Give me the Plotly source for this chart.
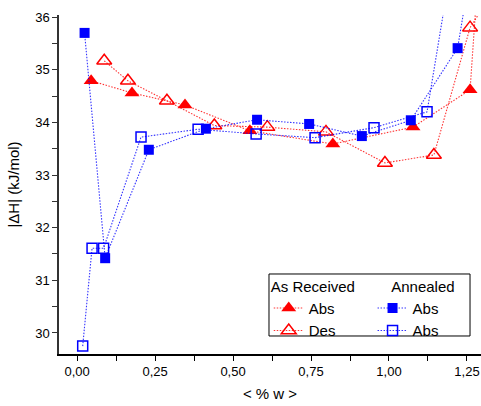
import plotly.graph_objects as go

# As Received - Absorption (filled red triangles)
ar_abs_x = [0.045, 0.176, 0.346, 0.554, 0.820, 1.077, 1.260, 1.290]
ar_abs_y = [34.79, 34.56, 34.33, 33.84, 33.59, 33.91, 34.62, 37.20]
# As Received - Desorption (open red triangles)
ar_des_x = [0.087, 0.163, 0.288, 0.440, 0.610, 0.798, 0.987, 1.144, 1.260, 1.330]
ar_des_y = [35.17, 34.79, 34.41, 33.94, 33.91, 33.82, 33.23, 33.38, 35.80, 36.45]
# Annealed - Abs (filled blue squares)
an_abs1_x = [0.024, 0.090, 0.230, 0.413, 0.577, 0.744, 0.913, 1.070, 1.220, 1.270]
an_abs1_y = [35.70, 31.42, 33.48, 33.88, 34.05, 33.97, 33.74, 34.04, 35.41, 37.20]
# Annealed - Abs (open blue squares)
an_abs2_x = [0.018, 0.048, 0.085, 0.205, 0.388, 0.574, 0.763, 0.952, 1.122, 1.200]
an_abs2_y = [29.75, 31.61, 31.61, 33.72, 33.87, 33.78, 33.71, 33.90, 34.20, 37.00]

x_ticks = [0.0, 0.25, 0.5, 0.75, 1.0, 1.25]
y_ticks = [30, 31, 32, 33, 34, 35, 36]

RED = "#ff0000"
BLUE = "#0000ff"
FONT = "Liberation Sans, Arial, sans-serif"
DOT = "1.5px,1.5px"

fig = go.Figure()
fig.add_trace(go.Scatter(x=ar_abs_x, y=ar_abs_y, mode="lines+markers", name="Abs",
                         line=dict(color="rgba(255,0,0,0.8)", width=1.1, dash=DOT),
                         marker=dict(symbol="triangle-up", size=13, color=RED),
                         legend="legend", cliponaxis=True))
fig.add_trace(go.Scatter(x=ar_des_x, y=ar_des_y, mode="lines+markers", name="Des",
                         line=dict(color="rgba(255,0,0,0.8)", width=1.1, dash=DOT),
                         marker=dict(symbol="triangle-up-open", size=13, color=RED,
                                     line=dict(width=1.5, color=RED)),
                         legend="legend", cliponaxis=True))
fig.add_trace(go.Scatter(x=an_abs1_x, y=an_abs1_y, mode="lines+markers", name="Abs",
                         line=dict(color="rgba(0,0,255,0.8)", width=1.1, dash=DOT),
                         marker=dict(symbol="square", size=10, color=BLUE),
                         legend="legend2", cliponaxis=True))
fig.add_trace(go.Scatter(x=an_abs2_x, y=an_abs2_y, mode="lines+markers", name="Abs",
                         line=dict(color="rgba(0,0,255,0.8)", width=1.1, dash=DOT),
                         marker=dict(symbol="square-open", size=10, color=BLUE,
                                     line=dict(width=1.5, color=BLUE)),
                         legend="legend2", cliponaxis=True))

fig.add_shape(type="rect", xref="paper", yref="paper",
              x0=0.4976, x1=0.974, y0=0.0531, y1=0.236,
              line=dict(color="black", width=1), fillcolor="white", layer="below")

fig.update_layout(
    width=481, height=406,
    margin=dict(l=59, r=0, t=15, b=52),
    paper_bgcolor="white", plot_bgcolor="white",
    separators=", ",
    font=dict(family=FONT, size=13, color="black"),
    showlegend=True,
    legend=dict(x=0.497, y=0.241, xanchor="left", yanchor="top",
                bgcolor="rgba(0,0,0,0)", borderwidth=0,
                font=dict(size=15, family=FONT),
                title=dict(text="As Received", font=dict(size=15, family=FONT)),
                tracegroupgap=0, itemwidth=30),
    legend2=dict(x=0.743, y=0.241, xanchor="left", yanchor="top",
                 bgcolor="rgba(0,0,0,0)", borderwidth=0,
                 font=dict(size=15, family=FONT),
                 title=dict(text="\u00a0\u00a0\u00a0\u00a0Annealed", font=dict(size=15, family=FONT)),
                 tracegroupgap=0, itemwidth=30),
    xaxis=dict(range=[-0.058, 1.295], tickvals=x_ticks, tickformat=".2f",
               showgrid=False, zeroline=False, showline=True, linecolor="black", linewidth=1.5,
               ticks="outside", ticklen=5, tickwidth=1.2, tickcolor="black",
               minor=dict(dtick=0.125, ticks="outside", ticklen=5, tickwidth=1.2, tickcolor="black", showgrid=False),
               title=dict(text="< % w >", font=dict(size=15), standoff=10),
               tickfont=dict(size=13)),
    yaxis=dict(range=[29.6, 36.04], tickvals=y_ticks,
               showgrid=False, zeroline=False, showline=True, linecolor="#333333", linewidth=1.5,
               ticks="outside", ticklen=5, tickwidth=1.2, tickcolor="#333333",
               minor=dict(dtick=0.5, ticks="outside", ticklen=5, tickwidth=1.2, tickcolor="#333333", showgrid=False),
               title=dict(text="|ΔH| (kJ/mol)", font=dict(size=15), standoff=12),
               tickfont=dict(size=13)),
)

fig.write_html("out.html")
